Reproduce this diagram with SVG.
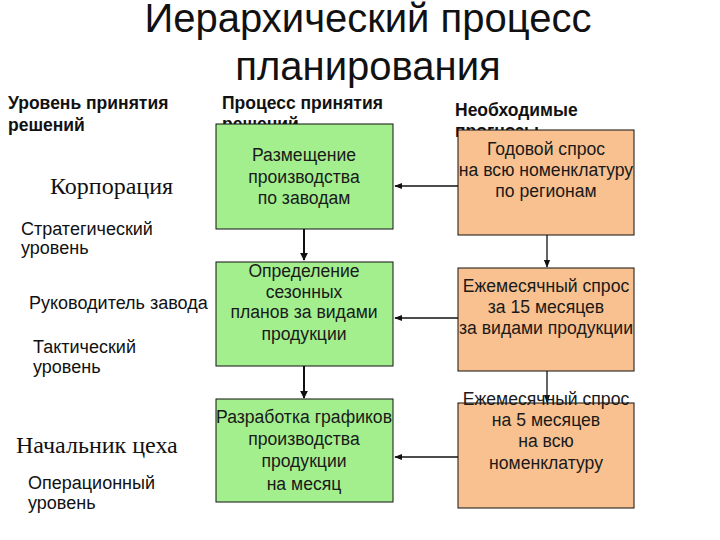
<svg xmlns="http://www.w3.org/2000/svg" width="720" height="540" viewBox="0 0 720 540">
<style>
.title{font-family:"Liberation Sans",Arial,sans-serif;font-size:40px;fill:#111;text-anchor:middle}
.hdr{font-family:"Liberation Sans",Arial,sans-serif;font-size:17.5px;font-weight:bold;fill:#111}
.lvl{font-family:"Liberation Sans",Arial,sans-serif;font-size:18px;fill:#111}
.role{font-family:"Liberation Serif","Times New Roman",serif;font-size:24px;fill:#111}
.bt{font-family:"Liberation Sans",Arial,sans-serif;font-size:17.6px;fill:#1a1a1a;text-anchor:middle}
.green{fill:#a3ef8e;stroke:#111;stroke-width:1}
.orange{fill:#f8c18f;stroke:#111;stroke-width:1}
.thick{stroke:#111;stroke-width:2;fill:none}
.thin{stroke:#111;stroke-width:1.3;fill:none}
</style>
<defs>
<marker id="ah" viewBox="0 0 10 10" refX="9" refY="5" markerWidth="4" markerHeight="4" orient="auto" markerUnits="strokeWidth">
<path d="M0,0 L10,5 L0,10 z" fill="#111"/>
</marker>
<marker id="ahs" viewBox="0 0 10 10" refX="9" refY="5" markerWidth="6" markerHeight="6" orient="auto" markerUnits="strokeWidth">
<path d="M0,1 L10,5 L0,9 z" fill="#111"/>
</marker>
</defs>
<rect width="720" height="540" fill="#fff"/>
<g id="title">
<text class="title" x="368" y="32">Иерархический процесс</text>
<text class="title" x="368" y="80">планирования</text>
</g>
<g id="headers">
<text class="hdr" x="8" y="109">Уровень принятия</text>
<text class="hdr" x="8" y="131">решений</text>
<text class="hdr" x="222" y="109">Процесс принятия</text>
<text class="hdr" x="222" y="130">решений</text>
<text class="hdr" x="455" y="116">Необходимые</text>
<text class="hdr" x="455" y="137">прогнозы</text>
</g>
<g id="levels">
<text class="role" x="50" y="194">Корпорация</text>
<text class="lvl" x="21" y="235">Стратегический</text>
<text class="lvl" x="21" y="254">уровень</text>
<text class="lvl" x="29" y="309">Руководитель завода</text>
<text class="lvl" x="33" y="353">Тактический</text>
<text class="lvl" x="33" y="373">уровень</text>
<text class="role" x="16" y="453">Начальник цеха</text>
<text class="lvl" x="28" y="489">Операционный</text>
<text class="lvl" x="28" y="509">уровень</text>
</g>
<g id="connectors">
<line class="thick" x1="304" y1="229" x2="304" y2="260" marker-end="url(#ah)"/>
<line class="thick" x1="304" y1="366" x2="304" y2="398" marker-end="url(#ah)"/>
<line class="thin" x1="547" y1="235" x2="547" y2="267" marker-end="url(#ahs)"/>
<line class="thin" x1="547" y1="371" x2="547" y2="402" marker-end="url(#ahs)"/>
<line class="thin" x1="458" y1="186" x2="395" y2="186" marker-end="url(#ahs)"/>
<line class="thin" x1="458" y1="318" x2="395" y2="318" marker-end="url(#ahs)"/>
<line class="thin" x1="458" y1="457" x2="395" y2="457" marker-end="url(#ahs)"/>
</g>
<g id="p1">
<rect class="green" x="216" y="124" width="177" height="105"/>
<text class="bt" x="304" y="161">Размещение</text>
<text class="bt" x="304" y="183">производства</text>
<text class="bt" x="304" y="204">по заводам</text>
</g>
<g id="p2">
<rect class="green" x="216" y="262" width="177" height="104"/>
<text class="bt" x="304" y="277">Определение</text>
<text class="bt" x="304" y="298">сезонных</text>
<text class="bt" x="304" y="318">планов за видами</text>
<text class="bt" x="304" y="340">продукции</text>
</g>
<g id="p3">
<rect class="green" x="216" y="399" width="177" height="103"/>
<text class="bt" x="304" y="423">Разработка графиков</text>
<text class="bt" x="304" y="445">производства</text>
<text class="bt" x="304" y="467">продукции</text>
<text class="bt" x="304" y="490">на месяц</text>
</g>
<g id="f1">
<rect class="orange" x="458" y="130" width="176" height="105"/>
<text class="bt" x="546" y="155">Годовой спрос</text>
<text class="bt" x="546" y="176">на всю номенклатуру</text>
<text class="bt" x="546" y="197">по регионам</text>
</g>
<g id="f2">
<rect class="orange" x="458" y="268" width="176" height="103"/>
<text class="bt" x="546" y="292">Ежемесячный спрос</text>
<text class="bt" x="546" y="313">за 15 месяцев</text>
<text class="bt" x="546" y="334">за видами продукции</text>
</g>
<g id="f3">
<rect class="orange" x="458" y="403" width="176" height="105"/>
<text class="bt" x="546" y="405">Ежемесячный спрос</text>
<text class="bt" x="546" y="426">на 5 месяцев</text>
<text class="bt" x="546" y="447">на всю</text>
<text class="bt" x="546" y="469">номенклатуру</text>
</g>
</svg>
